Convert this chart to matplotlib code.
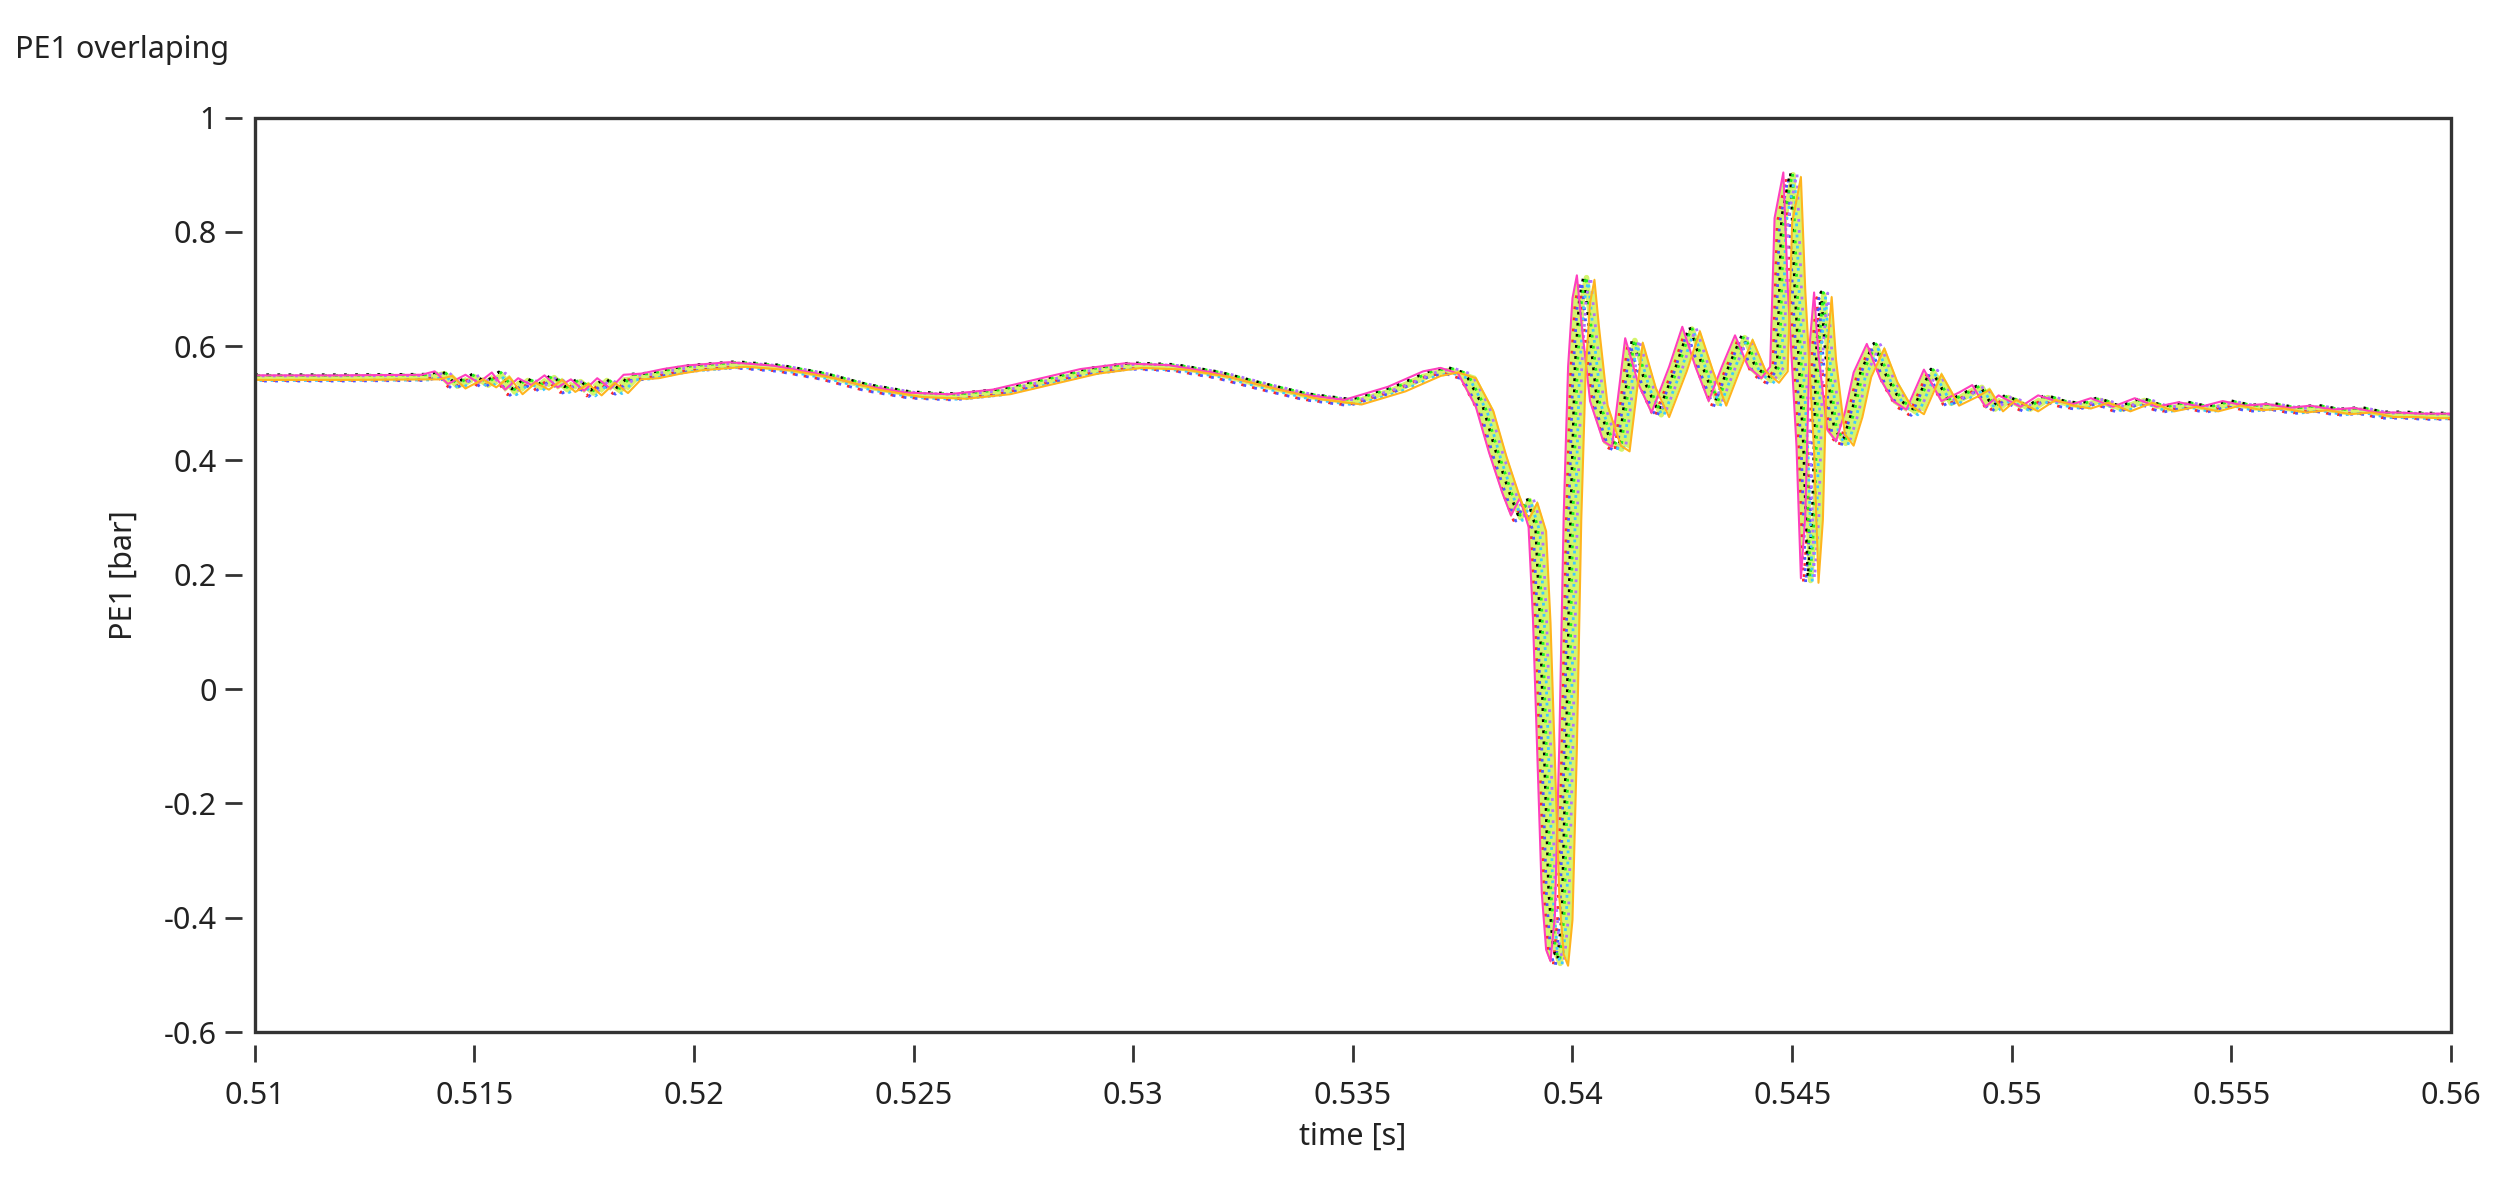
import matplotlib
matplotlib.use("Agg")
import matplotlib.pyplot as plt
from matplotlib.patches import Rectangle

# PE1 waveform of one run (time [s], pressure [bar])
t_base = [0.5098, 0.5120, 0.5140, 0.5143, 0.5146, 0.5150, 0.5153, 0.5156,
          0.5159, 0.5162, 0.5165, 0.5168, 0.5171, 0.5174, 0.5177, 0.5180,
          0.5183, 0.5186, 0.5190, 0.5195, 0.5200, 0.5210, 0.5220, 0.5230,
          0.5240, 0.5250, 0.5260, 0.5270, 0.5280, 0.5290, 0.5300, 0.5310,
          0.5320, 0.5330, 0.5340, 0.5350, 0.5360, 0.5368, 0.5372, 0.5376,
          0.5380, 0.5383, 0.5386, 0.5388, 0.5390, 0.5392, 0.5393, 0.5394,
          0.5395, 0.5396, 0.5397, 0.5398, 0.5399, 0.5400, 0.5401, 0.5402,
          0.5403, 0.5404, 0.5406, 0.5409, 0.5411, 0.5414, 0.5417, 0.5420,
          0.5424, 0.5427, 0.5430, 0.5433, 0.5436, 0.5439, 0.5442, 0.5445,
          0.5447, 0.5448, 0.5450, 0.5451, 0.5452, 0.5453, 0.5454, 0.5455,
          0.5456, 0.5457, 0.5458, 0.5460, 0.5462, 0.5464, 0.5466, 0.5469,
          0.5472, 0.5475, 0.5478, 0.5482, 0.5486, 0.5490, 0.5493, 0.5496,
          0.5499, 0.5504, 0.5508, 0.5512, 0.5516, 0.5520, 0.5525, 0.5530,
          0.5535, 0.5540, 0.5545, 0.5550, 0.5555, 0.5560, 0.5565, 0.5570,
          0.5575, 0.5580, 0.5585, 0.5590, 0.5595, 0.5602]
p_base = [0.545, 0.545, 0.546, 0.552, 0.530, 0.546, 0.532, 0.550,
          0.520, 0.540, 0.528, 0.545, 0.524, 0.538, 0.518, 0.540,
          0.522, 0.546, 0.548, 0.556, 0.562, 0.568, 0.562, 0.548,
          0.528, 0.515, 0.512, 0.520, 0.538, 0.556, 0.566, 0.563,
          0.550, 0.530, 0.512, 0.502, 0.525, 0.552, 0.558, 0.548,
          0.490, 0.410, 0.340, 0.300, 0.330, 0.280, 0.120, -0.120,
          -0.360, -0.460, -0.480, -0.400, -0.100, 0.300, 0.560, 0.680,
          0.720, 0.640, 0.500, 0.430, 0.420, 0.610, 0.530, 0.480,
          0.560, 0.630, 0.560, 0.500, 0.560, 0.615, 0.560, 0.540,
          0.560, 0.820, 0.900, 0.700, 0.560, 0.420, 0.190, 0.300,
          0.600, 0.690, 0.580, 0.450, 0.430, 0.480, 0.550, 0.600,
          0.540, 0.500, 0.485, 0.555, 0.500, 0.515, 0.528, 0.490,
          0.510, 0.490, 0.510, 0.500, 0.495, 0.505, 0.490, 0.505,
          0.490, 0.498, 0.490, 0.500, 0.492, 0.495, 0.488, 0.492,
          0.485, 0.488, 0.480, 0.480, 0.478, 0.478]

# overlaid runs: colour, time jitter [s], pressure offset [bar]
run_colors = ["#ff3fbf", "#ff2a2a", "#4b55ff", "#000000", "#22ee22",
              "#3fc8ff", "#b070ff", "#ffb41e"]
run_dt = [-0.00020, -0.00014, -0.00009, -0.00004, 0.00001, 0.00006,
          0.00011, 0.00020]
run_dp = [0.004, -0.005, -0.006, 0.005, 0.004, -0.005, 0.003, -0.004]
band_color = "#d4f56c"
band_dt = 0.00002

x_ticks = [0.51, 0.515, 0.52, 0.525, 0.53, 0.535, 0.54, 0.545, 0.55, 0.555, 0.56]
x_labels = ["0.51", "0.515", "0.52", "0.525", "0.53", "0.535", "0.54",
            "0.545", "0.55", "0.555", "0.56"]
y_ticks = [-0.6, -0.4, -0.2, 0, 0.2, 0.4, 0.6, 0.8, 1]
y_labels = ["-0.6", "-0.4", "-0.2", "0", "0.2", "0.4", "0.6", "0.8", "1"]

plt.rcParams["font.family"] = ["Noto Sans", "DejaVu Sans"]

fig = plt.figure(figsize=(24.96, 12), dpi=100)
ax = fig.add_axes([0.102, 0.14, 0.88, 0.762])

# yellow-green band between the earliest and the latest run
first = run_dt[0]
last = run_dt[-1]
band_x = [t + first for t in t_base] + [t + last for t in reversed(t_base)]
band_y = list(p_base) + list(reversed(p_base))
ax.fill(band_x, band_y, color=band_color, lw=0, zorder=1)
ax.plot([t + band_dt for t in t_base], p_base, color=band_color, lw=4, zorder=2)

# outer runs solid on top, the ones in between show only as dots
for i, (col, dt, dp) in enumerate(zip(run_colors, run_dt, run_dp)):
    outer = i in (0, len(run_colors) - 1)
    ax.plot([t + dt for t in t_base], [p + dp for p in p_base],
            color=col, lw=1.5 if outer else 2.0,
            ls="-" if outer else (0, (1, 3)), zorder=4 if outer else 3)

ax.set_xlim(0.51, 0.56)
ax.set_ylim(-0.6, 1.0)

# frame drawn separately so that the ticks can stand off the axes
for s in ax.spines.values():
    s.set_color("none")
ax.spines["bottom"].set_position(("outward", 9))
ax.spines["left"].set_position(("outward", 9))
ax.add_patch(Rectangle((0, 0), 1, 1, transform=ax.transAxes, fill=False,
                       edgecolor="#333333", lw=2.4, zorder=5, clip_on=False))

ax.set_xticks(x_ticks)
ax.set_xticklabels(x_labels)
ax.set_yticks(y_ticks)
ax.set_yticklabels(y_labels)
ax.tick_params(axis="both", direction="out", length=12, width=2,
               color="#333333", labelsize=22, labelcolor="#222222")
ax.tick_params(axis="x", pad=14)
ax.tick_params(axis="y", pad=6)

ax.set_xlabel("time [s]", fontsize=22, color="#222222", labelpad=8)
ax.set_ylabel("PE1 [bar]", fontsize=22, color="#222222", labelpad=18)
fig.text(0.006, 0.958, "PE1 overlaping", fontsize=22, color="#222222",
         ha="left", va="center")

fig.savefig("out.png", dpi=100)
